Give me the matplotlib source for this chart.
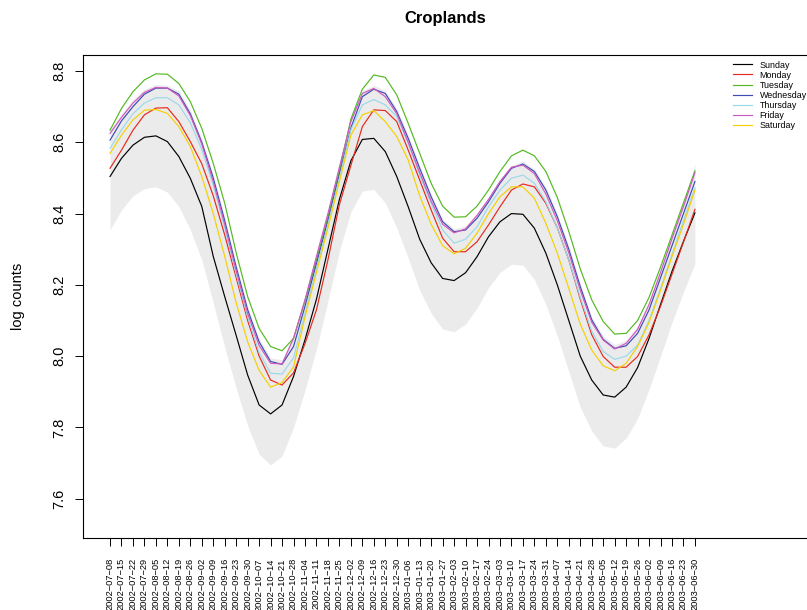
import matplotlib
matplotlib.use("Agg")
import matplotlib.pyplot as plt
import numpy as np
import pandas as pd

plt.rcParams['font.family'] = ['Liberation Sans', 'DejaVu Sans']

# weekly tick labels (R style minus sign in the dates)
week_labels = [d.strftime('%Y-%m-%d').replace('-', '\u2212')
               for d in pd.date_range('2002-07-08', '2003-06-30', freq='7D')]

days = ['Sunday', 'Monday', 'Tuesday', 'Wednesday', 'Thursday', 'Friday', 'Saturday']
day_colors = ['black', '#e8291c', '#52b920', '#3c4cb4', '#9ad9ea', '#d05ac0', '#f5d000']

sunday = [8.504, 8.555, 8.592, 8.614, 8.618, 8.602, 8.560, 8.499, 8.420, 8.280, 8.167, 8.058,
          7.947, 7.863, 7.838, 7.863, 7.943, 8.046, 8.160, 8.300, 8.440, 8.548, 8.608, 8.611,
          8.574, 8.504, 8.419, 8.328, 8.262, 8.218, 8.212, 8.234, 8.279, 8.335, 8.377, 8.400,
          8.398, 8.359, 8.289, 8.200, 8.100, 8.000, 7.933, 7.891, 7.885, 7.913, 7.968, 8.050,
          8.145, 8.238, 8.322, 8.402]
monday = [8.527, 8.578, 8.634, 8.677, 8.696, 8.697,
          8.658, 8.602, 8.540, 8.450, 8.340, 8.220, 8.100, 8.000, 7.933,
          7.919, 7.953, 8.035, 8.130, 8.270, 8.425, 8.535, 8.644, 8.691, 8.689,
          8.658, 8.578, 8.494, 8.410, 8.331, 8.293, 8.293, 8.321, 8.368, 8.419, 8.466, 8.483,
          8.475, 8.429, 8.360,
          8.270, 8.160, 8.060, 7.999, 7.969, 7.969, 7.999, 8.060, 8.140, 8.230, 8.320, 8.412]
tuesday = [8.634, 8.695, 8.742, 8.775, 8.792, 8.791, 8.765, 8.714, 8.639, 8.541, 8.429,
           8.290, 8.167, 8.078, 8.027, 8.015, 8.050, 8.155, 8.270, 8.390, 8.520, 8.665,
           8.749, 8.789, 8.782, 8.733, 8.653, 8.569, 8.485, 8.421, 8.390, 8.391, 8.421,
           8.466, 8.518, 8.562, 8.578, 8.562, 8.518, 8.445, 8.350, 8.245, 8.158, 8.097,
           8.062, 8.064, 8.100, 8.165, 8.250, 8.340, 8.430, 8.520]
wednesday = [8.606, 8.660, 8.700, 8.735, 8.752, 8.752,
             8.735, 8.680, 8.600, 8.500, 8.380, 8.250, 8.130, 8.040, 7.985,
             7.977, 8.027, 8.140, 8.260, 8.380, 8.510, 8.640, 8.728, 8.749, 8.737,
             8.686, 8.611, 8.527, 8.447, 8.377, 8.349, 8.354, 8.387, 8.433, 8.485, 8.527, 8.539,
             8.518, 8.466, 8.391,
             8.300, 8.195, 8.102, 8.047, 8.022, 8.029, 8.064, 8.130, 8.220, 8.310, 8.400, 8.490]
thursday = [8.583, 8.635, 8.680, 8.710, 8.725, 8.725,
            8.705, 8.655, 8.580, 8.480, 8.360, 8.230, 8.110, 8.010, 7.952,
            7.950, 7.995, 8.120, 8.245, 8.370, 8.500, 8.635, 8.705, 8.720, 8.705,
            8.672, 8.597, 8.508, 8.429, 8.354, 8.317, 8.328, 8.363, 8.419, 8.466, 8.499, 8.508,
            8.485, 8.433, 8.360,
            8.270, 8.165, 8.070, 8.013, 7.991, 8.000, 8.031, 8.100, 8.190, 8.285, 8.380, 8.472]
friday = [8.625, 8.670, 8.710, 8.740, 8.754, 8.752,
          8.730, 8.675, 8.595, 8.490, 8.370, 8.240, 8.120, 8.030, 7.980,
          7.978, 8.050, 8.158, 8.280, 8.400, 8.530, 8.658, 8.737, 8.751, 8.728,
          8.680, 8.600, 8.515, 8.435, 8.370, 8.346, 8.357, 8.395, 8.440, 8.490, 8.530, 8.536,
          8.512, 8.455, 8.380,
          8.290, 8.185, 8.095, 8.045, 8.020, 8.036, 8.075, 8.145, 8.235, 8.330, 8.420, 8.515]
saturday = [8.569, 8.620, 8.663, 8.690, 8.692, 8.681,
            8.644, 8.588, 8.504, 8.400, 8.280, 8.150, 8.040, 7.960, 7.913,
            7.926, 7.970, 8.110, 8.235, 8.360, 8.490, 8.620, 8.677, 8.689, 8.658,
            8.616, 8.550, 8.450, 8.370, 8.310, 8.287, 8.303, 8.345, 8.400, 8.447, 8.475, 8.475,
            8.443, 8.373, 8.289,
            8.190, 8.090, 8.017, 7.973, 7.959, 7.980, 8.027, 8.095, 8.185, 8.280, 8.370, 8.466]

# grey envelope
band_lo = [8.355, 8.41, 8.45, 8.47, 8.475, 8.46, 8.42, 8.355, 8.27, 8.15, 8.025, 7.91, 7.805,
           7.725, 7.695, 7.72, 7.80, 7.905, 8.02, 8.155, 8.295, 8.405, 8.463, 8.468, 8.43,
           8.36, 8.275, 8.185, 8.12, 8.076, 8.069, 8.09, 8.135, 8.192, 8.235, 8.258, 8.255,
           8.215, 8.145, 8.057, 7.957, 7.857, 7.79, 7.748, 7.742, 7.77, 7.825, 7.907, 8.0,
           8.095, 8.18, 8.26]
band_hi = [8.635, 8.68, 8.72, 8.75, 8.762, 8.76, 8.745, 8.69, 8.61, 8.51, 8.39, 8.26, 8.14,
           8.05, 7.995, 7.99, 8.06, 8.17, 8.29, 8.41, 8.54, 8.67, 8.745, 8.76, 8.745, 8.695,
           8.62, 8.535, 8.455, 8.385, 8.357, 8.365, 8.40, 8.445, 8.495, 8.535, 8.548, 8.525,
           8.475, 8.40, 8.31, 8.205, 8.11, 8.057, 8.032, 8.045, 8.085, 8.155, 8.245, 8.34,
           8.43, 8.54]

series = [sunday, monday, tuesday, wednesday, thursday, friday, saturday]

xs = np.arange(len(week_labels))

fig = plt.figure(figsize=(8.07, 6.10), dpi=100)
ax = fig.add_axes([83.3 / 807, 72 / 610, 1 - 83.3 / 807, 483 / 610])

ax.fill_between(xs, band_lo, band_hi, color='#ebebeb', lw=0)
for vals, name, c in zip(series, days, day_colors):
    ax.plot(xs, vals, color=c, lw=0.85, label=name)

ax.set_xlim(-2.33, 60.77)
ax.set_ylim(7.4898, 8.8449)
ax.set_xticks(xs)
ax.set_xticklabels(week_labels, rotation=90, fontsize=6.7)
ax.set_yticks([7.6, 7.8, 8.0, 8.2, 8.4, 8.6, 8.8])
ax.set_yticklabels(['7.6', '7.8', '8.0', '8.2', '8.4', '8.6', '8.8'], rotation=90,
                   va='center', fontsize=10.5)
ax.tick_params(axis='x', length=5.5, width=0.7, pad=9)
ax.tick_params(axis='y', length=5.5, width=0.7, pad=7)
ax.spines['right'].set_visible(False)
for s in ['left', 'top', 'bottom']:
    ax.spines[s].set_linewidth(0.8)

fig.text(445 / 807, 1 - 18 / 610, 'Croplands', ha='center', va='center',
         fontsize=12, fontweight='bold')
fig.text(18 / 807, 1 - 296.5 / 610, 'log counts', rotation=90, ha='center', va='center',
         fontsize=10.5)

ax.legend(loc='upper left', bbox_to_anchor=(733 / 807, 1 - 60.5 / 610),
          bbox_transform=fig.transFigure, frameon=False, fontsize=6.4,
          handlelength=2.1, handletextpad=0.9, labelspacing=0.12,
          borderpad=0, borderaxespad=0)

fig.savefig('out.png', dpi=100)
